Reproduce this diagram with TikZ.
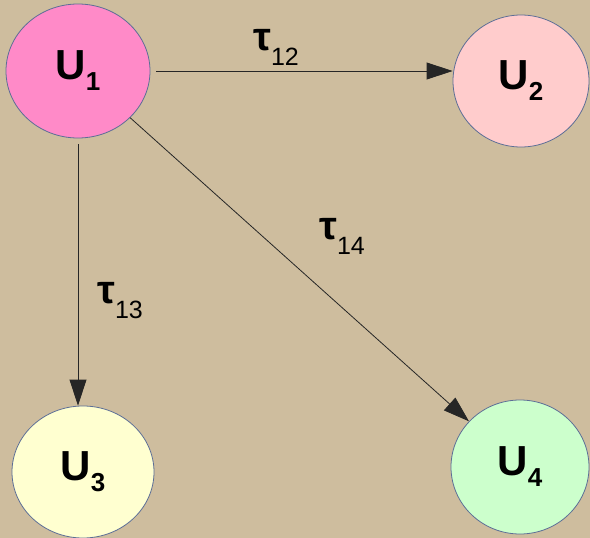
\documentclass[tikz,border=0pt]{standalone}
\usepackage{fontspec}
\setmainfont{Liberation Sans}
\usepackage{xcolor}
\usetikzlibrary{arrows.meta, shapes.geometric}

\definecolor{paper}{RGB}{206,189,158}
\definecolor{rimblue}{RGB}{92,110,150}
\definecolor{pinkA}{RGB}{255,138,200}
\definecolor{pinkB}{RGB}{255,204,204}
\definecolor{creamC}{RGB}{255,255,208}
\definecolor{greenD}{RGB}{204,255,204}

\newcommand{\unode}[1]{{\fontsize{42}{42}\selectfont\bfseries U\raisebox{-11pt}{\fontsize{26}{26}\selectfont #1}}}
\newcommand{\tlabel}[1]{{\fontsize{40}{40}\selectfont\bfseries τ}\raisebox{-15pt}{\fontsize{25}{25}\selectfont #1}}

\tikzset{
  agent/.style={ellipse, draw=rimblue, line width=0.8pt, inner sep=0pt},
  link/.style={draw=black!85, line width=0.8pt, -{Triangle[length=26pt, width=17pt]}}
}

\begin{document}
\begin{tikzpicture}[x=1pt, y=-1pt]
  % background
  \fill[paper] (0,0) rectangle (590,538);
  \useasboundingbox (0,0) rectangle (590,538);
  % agents
  \node[agent, fill=pinkA, minimum width=144pt, minimum height=134pt] (u1) at (78,71) {\unode{1}};
  \node[agent, fill=pinkB, minimum width=136pt, minimum height=132pt] (u2) at (521,81) {\unode{2}};
  \node[agent, fill=creamC, minimum width=142pt, minimum height=132pt] (u3) at (83,472) {\unode{3}};
  \node[agent, fill=greenD, minimum width=138pt, minimum height=134pt] (u4) at (520,467) {\unode{4}};
  % links
  \draw[link, shorten <=6pt] (u1.east) -- (u1.east -| u2.west);
  \draw[link, shorten <=6pt] (u1.south) -- (u1.south |- u3.north);
  \draw[link] (u1) -- (u4);
  % delays
  \node (t12) at (276,47) {\tlabel{12}};
  \node (t13) at (120,301) {\tlabel{13}};
  \node (t14) at (342,236) {\tlabel{14}};
\end{tikzpicture}
\end{document}
